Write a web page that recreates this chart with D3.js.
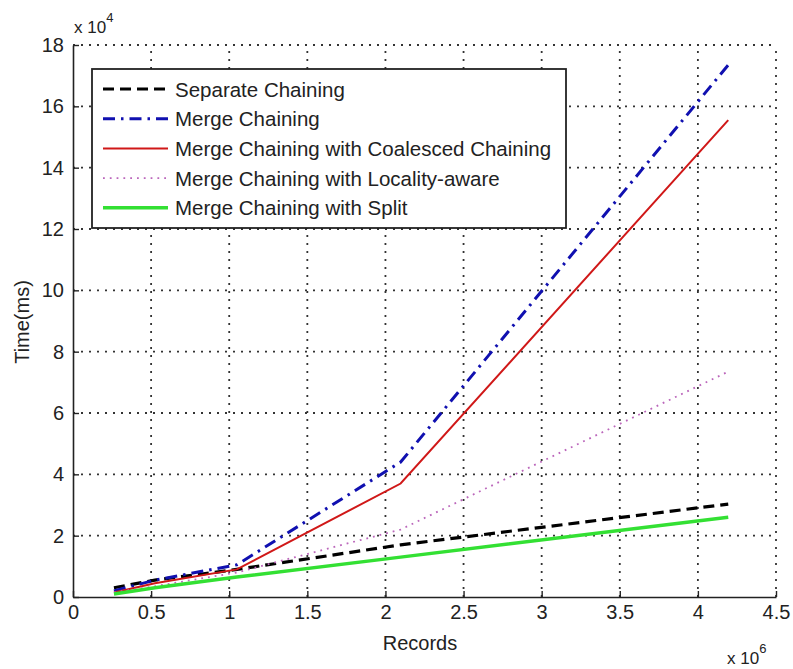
<!DOCTYPE html>
<html><head><meta charset="utf-8">
<script src="https://cdn.jsdelivr.net/npm/d3@7"></script>
<style>body{margin:0;background:#fff}svg text{font-family:"Liberation Sans",Arial,sans-serif;fill:#222}</style>
</head><body>
<svg id="c" width="793" height="669"></svg>
<script>
const records = [0.262144, 0.524288, 1.048576, 2.097152, 4.194304]; // x 10^6
const separateChaining = [0.3, 0.55, 0.9, 1.7, 3.03];          // x 10^4 ms
const mergeChaining = [0.2, 0.55, 1.05, 4.4, 17.35];
const mergeCoalesced = [0.15, 0.45, 0.9, 3.7, 15.55];
const mergeLocality = [0.15, 0.35, 0.8, 2.2, 7.35];
const mergeSplit = [0.1, 0.3, 0.65, 1.3, 2.6];
const xTicks = [0, 0.5, 1, 1.5, 2, 2.5, 3, 3.5, 4, 4.5];
const yTicks = [0, 2, 4, 6, 8, 10, 12, 14, 16, 18];
const seriesNames = ["Separate Chaining", "Merge Chaining", "Merge Chaining with Coalesced Chaining", "Merge Chaining with Locality-aware", "Merge Chaining with Split"];

const series = [
  {name: seriesNames[0], values: separateChaining, color: "#000000", width: 3.2, dash: "11,6"},
  {name: seriesNames[1], values: mergeChaining, color: "#1010b0", width: 3, dash: "12,6,2.5,6"},
  {name: seriesNames[2], values: mergeCoalesced, color: "#d01818", width: 2, dash: null},
  {name: seriesNames[3], values: mergeLocality, color: "#bb66bb", width: 1.8, dash: "1.8,5"},
  {name: seriesNames[4], values: mergeSplit, color: "#33e033", width: 3.5, dash: null}
];

const L = 73, R = 776, T = 45, B = 597;
const svg = d3.select("#c");
const x = d3.scaleLinear().domain([0, 4.5]).range([L, R]);
const y = d3.scaleLinear().domain([0, 18]).range([B, T]);

// grid
const grid = svg.append("g").attr("class", "grid");
grid.selectAll("line.gx").data(xTicks.slice(1)).join("line").attr("class", "gx")
  .attr("x1", d => x(d)).attr("x2", d => x(d)).attr("y1", B).attr("y2", T);
grid.selectAll("line.gy").data(yTicks.slice(1)).join("line").attr("class", "gy")
  .attr("y1", d => y(d)).attr("y2", d => y(d)).attr("x1", L).attr("x2", R);
grid.selectAll("line").attr("stroke", "#333").attr("stroke-width", 1.8).attr("stroke-dasharray", "2,6");

// axes
const xAxis = d3.axisBottom(x).tickValues(xTicks).tickSizeInner(-6).tickSizeOuter(0).tickPadding(8).tickFormat(d3.format("~g"));
const gx = svg.append("g").attr("transform", `translate(0,${B})`).call(xAxis);
const yAxis = d3.axisLeft(y).tickValues(yTicks).tickSizeInner(-6).tickSizeOuter(0).tickPadding(9).tickFormat(d3.format("~g"));
const gy = svg.append("g").attr("transform", `translate(${L},0)`).call(yAxis);
[gx, gy].forEach(g => {
  g.select(".domain").attr("stroke", "#222").attr("stroke-width", 1.6);
  g.selectAll(".tick line").attr("stroke", "#222").attr("stroke-width", 1.4);
  g.selectAll(".tick text").attr("font-size", 20).attr("fill", "#222")
   .attr("font-family", "'Liberation Sans',Arial,sans-serif");
});

// lines
const line = d3.line().x((d, i) => x(records[i])).y(d => y(d));
svg.append("g").selectAll("path").data(series).join("path")
  .attr("d", d => line(d.values)).attr("fill", "none")
  .attr("stroke", d => d.color).attr("stroke-width", d => d.width)
  .attr("stroke-dasharray", d => d.dash);

// axis labels
svg.append("text").attr("x", 420).attr("y", 650).attr("text-anchor", "middle").attr("font-size", 20).text("Records");
svg.append("text").attr("transform", "translate(29,322) rotate(-90)").attr("text-anchor", "middle").attr("font-size", 20).text("Time(ms)");
const e4 = svg.append("text").attr("x", 74).attr("y", 33).attr("font-size", 17);
e4.append("tspan").text("x 10");
e4.append("tspan").attr("dy", -11).attr("font-size", 13).text("4");
const e6 = svg.append("text").attr("x", 727).attr("y", 664).attr("font-size", 17);
e6.append("tspan").text("x 10");
e6.append("tspan").attr("dy", -11).attr("font-size", 13).text("6");

// legend
const lg = svg.append("g");
lg.append("rect").attr("x", 92).attr("y", 69).attr("width", 474).attr("height", 159)
  .attr("fill", "#fff").attr("stroke", "#222").attr("stroke-width", 1.8);
const rows = lg.selectAll("g.row").data(series).join("g")
  .attr("transform", (d, i) => `translate(0,${89 + i * 29.7})`);
rows.append("line").attr("x1", 103).attr("x2", 168).attr("y1", 0).attr("y2", 0)
  .attr("stroke", d => d.color).attr("stroke-width", d => d.width).attr("stroke-dasharray", d => d.dash);
rows.append("text").attr("x", 175).attr("y", 7.5).attr("font-size", 20.5).text(d => d.name);
</script>
</body></html>
